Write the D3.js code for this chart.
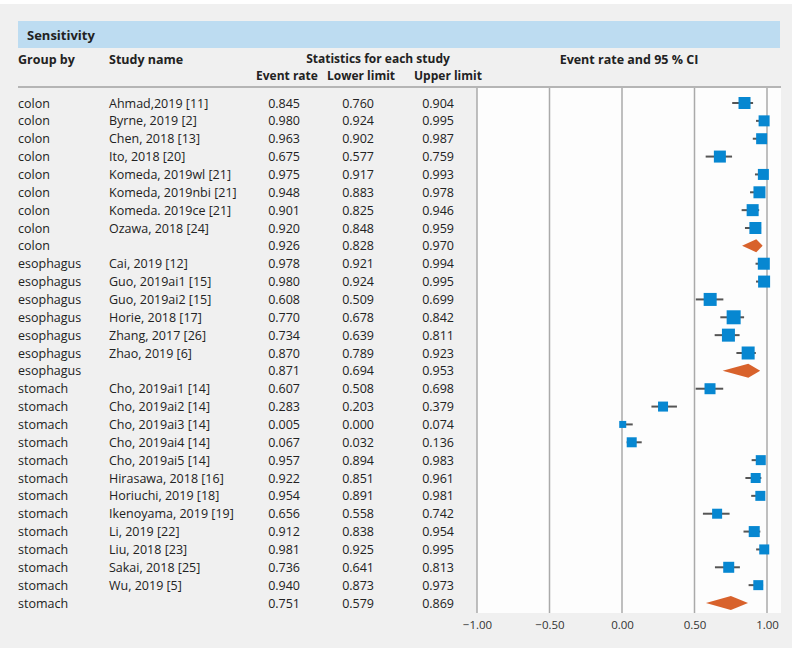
<!DOCTYPE html>
<html><head><meta charset="utf-8">
<script src="https://cdn.jsdelivr.net/npm/d3@7"></script>
<style>body{margin:0;background:#fff}svg{display:block;font-family:"Open Sans",sans-serif}</style>
</head><body><svg id="c" width="800" height="648"></svg>
<script>
const groups = ["colon","colon","colon","colon","colon","colon","colon","colon","colon",
  "esophagus","esophagus","esophagus","esophagus","esophagus","esophagus","esophagus",
  "stomach","stomach","stomach","stomach","stomach","stomach","stomach","stomach","stomach","stomach","stomach","stomach","stomach"];
const studies = ["Ahmad,2019 [11]","Byrne, 2019 [2]","Chen, 2018 [13]","Ito, 2018 [20]","Komeda, 2019wl [21]","Komeda, 2019nbi [21]","Komeda. 2019ce [21]","Ozawa, 2018 [24]","",
  "Cai, 2019 [12]","Guo, 2019ai1 [15]","Guo, 2019ai2 [15]","Horie, 2018 [17]","Zhang, 2017 [26]","Zhao, 2019 [6]","",
  "Cho, 2019ai1 [14]","Cho, 2019ai2 [14]","Cho, 2019ai3 [14]","Cho, 2019ai4 [14]","Cho, 2019ai5 [14]","Hirasawa, 2018 [16]","Horiuchi, 2019 [18]","Ikenoyama, 2019 [19]","Li, 2019 [22]","Liu, 2018 [23]","Sakai, 2018 [25]","Wu, 2019 [5]",""];
const eventRate = [0.845,0.980,0.963,0.675,0.975,0.948,0.901,0.920,0.926,
  0.978,0.980,0.608,0.770,0.734,0.870,0.871,
  0.607,0.283,0.005,0.067,0.957,0.922,0.954,0.656,0.912,0.981,0.736,0.940,0.751];
const lowerLimit = [0.760,0.924,0.902,0.577,0.917,0.883,0.825,0.848,0.828,
  0.921,0.924,0.509,0.678,0.639,0.789,0.694,
  0.508,0.203,0.000,0.032,0.894,0.851,0.891,0.558,0.838,0.925,0.641,0.873,0.579];
const upperLimit = [0.904,0.995,0.987,0.759,0.993,0.978,0.946,0.959,0.970,
  0.994,0.995,0.699,0.842,0.811,0.923,0.953,
  0.698,0.379,0.074,0.136,0.983,0.961,0.981,0.742,0.954,0.995,0.813,0.973,0.869];
const isSummary = [0,0,0,0,0,0,0,0,1, 0,0,0,0,0,0,1, 0,0,0,0,0,0,0,0,0,0,0,0,1];
const weights = [12,11,11,12,11,12,12,12,13, 12,12,13,14,13,13,14, 11,10,7,10,10,10,10,10,11,10,11,10,14];
const tickValues = [-1,-0.5,0,0.5,1];

const svg = d3.select("#c");
svg.append("rect").attr("x",0).attr("y",4).attr("width",792).attr("height",644).attr("fill","#f0f0f0");
// header band
svg.append("rect").attr("x",18).attr("y",21).attr("width",762).attr("height",27).attr("fill","#bddcf1");
svg.append("text").attr("x",27).attr("y",40).attr("font-size",13).attr("font-weight","bold").attr("fill","#222").text("Sensitivity");

const x = d3.scaleLinear().domain([-1,1]).range([477,767]);
const y = d3.scaleLinear().domain([0,28]).range([103,603]);

// plot panel
svg.append("rect").attr("x",477).attr("y",88).attr("width",304).attr("height",525).attr("fill","#fdfdfd");
svg.append("line").attr("x1",18).attr("x2",781).attr("y1",87).attr("y2",87).attr("stroke","#b5b5b5").attr("stroke-width",2);

const hdr = svg.append("g").attr("font-size",12).attr("font-weight","bold").attr("fill","#222");
hdr.append("text").attr("x",18).attr("y",63.5).attr("font-size",12.5).text("Group by");
hdr.append("text").attr("x",109).attr("y",63.5).attr("font-size",12.5).text("Study name");
hdr.append("text").attr("x",378).attr("y",62.5).attr("text-anchor","middle").text("Statistics for each study");
hdr.append("text").attr("x",287).attr("y",79.5).attr("text-anchor","middle").text("Event rate");
hdr.append("text").attr("x",361).attr("y",79.5).attr("text-anchor","middle").text("Lower limit");
hdr.append("text").attr("x",448).attr("y",79.5).attr("text-anchor","middle").text("Upper limit");
hdr.append("text").attr("x",629).attr("y",63.5).attr("font-size",12.5).attr("text-anchor","middle").text("Event rate and 95 % CI");

// gridlines
svg.append("g").selectAll("line").data(tickValues).join("line")
  .attr("x1",d=>x(d)).attr("x2",d=>x(d)).attr("y1",88).attr("y2",613)
  .attr("stroke","#aaa").attr("stroke-width",1.5);

// axis labels
const axis = d3.axisBottom(x).tickValues(tickValues).tickSize(0).tickPadding(0)
  .tickFormat(d=>d3.format(".2f")(d).replace("-","\u2212"));
const ag = svg.append("g").attr("transform","translate(0,619)").call(axis);
ag.select(".domain").remove();
ag.selectAll("text").attr("font-size",11.5).attr("fill","#333").attr("font-family","Open Sans, sans-serif").attr("dy","0.9em");

// table text
const idx = d3.range(groups.length);
const tg = svg.append("g").attr("font-size",12.5).attr("fill","#222");
const fmt = d3.format(".3f");
idx.forEach(i=>{
  const yy = y(i)+4.5;
  tg.append("text").attr("x",18).attr("y",yy).text(groups[i]);
  tg.append("text").attr("x",109).attr("y",yy).text(studies[i]);
  tg.append("text").attr("x",300).attr("y",yy).attr("text-anchor","end").text(fmt(eventRate[i]));
  tg.append("text").attr("x",374).attr("y",yy).attr("text-anchor","end").text(fmt(lowerLimit[i]));
  tg.append("text").attr("x",454).attr("y",yy).attr("text-anchor","end").text(fmt(upperLimit[i]));
});

// marks
const mg = svg.append("g");
idx.filter(i=>!isSummary[i]).forEach(i=>{
  mg.append("line").attr("x1",x(lowerLimit[i])).attr("x2",x(upperLimit[i]))
    .attr("y1",y(i)).attr("y2",y(i)).attr("stroke","#555").attr("stroke-width",2);
  const s = weights[i];
  mg.append("rect").attr("x",x(eventRate[i])-s/2).attr("y",y(i)-s/2).attr("width",s).attr("height",s)
    .attr("fill","#0787d1");
});
idx.filter(i=>isSummary[i]).forEach(i=>{
  const h = weights[i]/2, c=y(i);
  mg.append("path").attr("d",`M${x(lowerLimit[i])},${c}L${x(eventRate[i])},${c-h}L${x(upperLimit[i])},${c}L${x(eventRate[i])},${c+h}Z`)
    .attr("fill","#d8622c");
});
</script></body></html>
